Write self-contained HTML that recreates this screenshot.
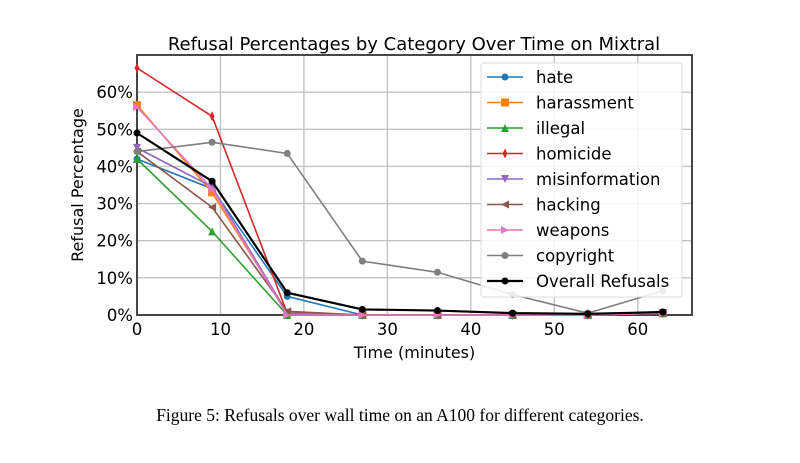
<!DOCTYPE html>
<html><head><meta charset="utf-8"><style>
body{margin:0;background:#fff;width:800px;height:458px;overflow:hidden}
svg text{font-family:"DejaVu Sans","Liberation Sans",sans-serif}
</style></head><body>
<svg id="chart" width="800" height="458">
<text x="414" y="50" font-size="18" text-anchor="middle">Refusal Percentages by Category Over Time on Mixtral</text>
<g id="grid"></g><g id="axes"></g><g id="series"></g><g id="legend"></g>
<text x="400" y="421" font-size="17.5" text-anchor="middle" style="font-family:'Liberation Serif',serif">Figure 5: Refusals over wall time on an A100 for different categories.</text>
</svg>
<script>
const times=[0,9,18,27,36,45,54,63];
const xTicks=[0,10,20,30,40,50,60];
const yTicks=[0,10,20,30,40,50,60];
const names=["hate","harassment","illegal","homicide","misinformation","hacking","weapons","copyright","Overall Refusals"];
const hate=[42,34,5,0,0,0,0,0.5];
const harassment=[56.5,33,0.5,0,0,0,0,0.5];
const illegal=[42,22.5,0,0,0,0,0,0.5];
const homicide=[66.5,53.5,0.5,0,0,0,0,0.5];
const misinformation=[45,34.5,0.5,0,0,0,0,0.5];
const hacking=[44,29,1,0,0,0,0,0.5];
const weapons=[56,34,0,0,0,0,0,0.5];
const copyright=[44,46.5,43.5,14.5,11.5,5.5,0.5,6.5];
const overall=[49,36,6,1.5,1.2,0.5,0.3,0.8];
const seriesData=[hate,harassment,illegal,homicide,misinformation,hacking,weapons,copyright,overall];
const colors=["#1f77b4","#ff7f0e","#2ca02c","#d62728","#9467bd","#8c564b","#e377c2","#7f7f7f","#000000"];
const markers=["o","s","^","d","v","<",">","o","o"];
const L=137,R=692,T=55,B=315,XMAX=66.5,YMAX=70;
const X=v=>L+v/XMAX*(R-L), Y=v=>B-v/YMAX*(B-T);
const NS="http://www.w3.org/2000/svg";
function mk(tag,attrs,parent){const e=document.createElementNS(NS,tag);for(const k in attrs)e.setAttribute(k,attrs[k]);parent.appendChild(e);return e;}
const grid=document.getElementById('grid'),axes=document.getElementById('axes'),ser=document.getElementById('series'),leg=document.getElementById('legend');
xTicks.forEach(t=>{
 const l=mk('line',{x1:X(t),x2:X(t),y1:T,y2:B,stroke:'#c4c4c4','stroke-width':1.4},grid);
 
 const tx=mk('text',{x:X(t),y:B+20,'font-size':16.5,'text-anchor':'middle'},axes);tx.textContent=t;
 
});
yTicks.forEach(t=>{
 const l=mk('line',{x1:L,x2:R,y1:Y(t),y2:Y(t),stroke:'#c4c4c4','stroke-width':1.4},grid);
 
 const tx=mk('text',{x:L-4,y:Y(t)+6,'font-size':16.5,'text-anchor':'end'},axes);tx.textContent=t+'%';
 
});
const fr=mk('rect',{x:L,y:T,width:R-L,height:B-T,fill:'none',stroke:'#333','stroke-width':1.8},axes);

const xt=mk('text',{x:(L+R)/2,y:358,'font-size':16,'text-anchor':'middle'},axes);xt.textContent='Time (minutes)';

const yt=mk('text',{x:0,y:0,'font-size':16,'text-anchor':'middle',transform:`translate(83,${(T+B)/2}) rotate(-90)`},axes);yt.textContent='Refusal Percentage';

function marker(m,x,y,c,p){
 const s=4;let e;
 if(m==='o')e=mk('circle',{cx:x,cy:y,r:3.5,fill:c},p);
 else if(m==='s')e=mk('rect',{x:x-s,y:y-s,width:2*s,height:2*s,fill:c},p);
 else{const pts={'^':[[0,-s],[s,s],[-s,s]],'v':[[0,s],[s,-s],[-s,-s]],'<':[[-s,0],[s,-s],[s,s]],'>':[[s,0],[-s,-s],[-s,s]],'d':[[0,-s-1],[s*0.6,0],[0,s+1],[-s*0.6,0]]}[m];
  e=mk('polygon',{points:pts.map(q=>(x+q[0])+','+(y+q[1])).join(' '),fill:c},p);}
 return e;
}
seriesData.forEach((d,i)=>{
 const g=mk('g',{},ser);
 
 
 mk('polyline',{points:d.map((v,j)=>X(times[j])+','+Y(v)).join(' '),fill:'none',stroke:colors[i],'stroke-width':i===8?2.2:1.6},g);
 d.forEach((v,j)=>{const e=marker(markers[i],X(times[j]),Y(v),colors[i],g);
  });
});
const lb=mk('rect',{x:481,y:63,width:201,height:234,rx:3,fill:'rgba(255,255,255,0.85)',stroke:'#ddd'},leg);

names.forEach((n,i)=>{
 const y=77+i*25.5;const g=mk('g',{},leg);
 
 mk('line',{x1:487,x2:523,y1:y,y2:y,stroke:colors[i],'stroke-width':i===8?2.2:1.6},g);
 marker(markers[i],505,y,colors[i],g);
 const t=mk('text',{x:536,y:y+6,'font-size':16.5},g);t.textContent=n;
});
</script>
</body></html>
